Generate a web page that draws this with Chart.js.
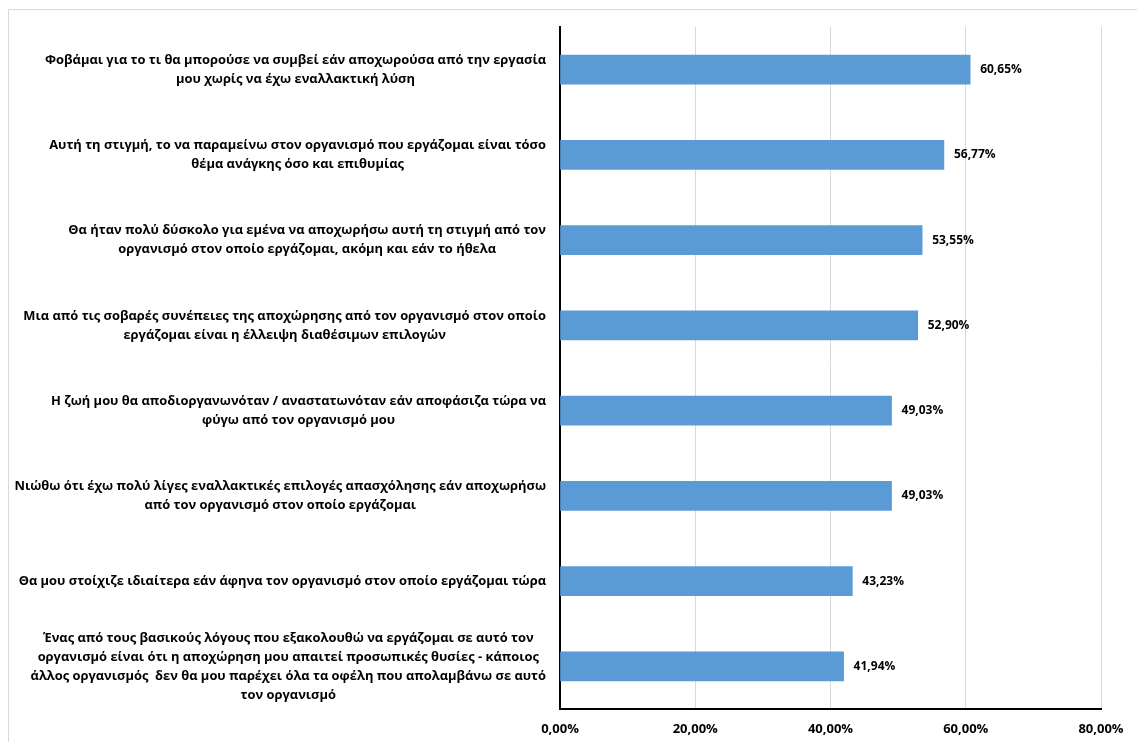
<!DOCTYPE html>
<html>
<head>
<meta charset="utf-8">
<script src="https://cdn.jsdelivr.net/npm/chart.js@4"></script>
<style>
    html, body { margin: 0; padding: 0; background: #fff; overflow: hidden; }
    #wrap { position: relative; width: 1137px; height: 742px; }
    #frame { position: absolute; left: 8px; top: 9px; width: 1140px; height: 740px; border: 1px solid #d9d9d9; box-sizing: border-box; }
    canvas { position: absolute; left: 0; top: 0; }
</style>
</head>
<body>
<div id="wrap">
    <div id="frame"></div>
    <canvas id="commitChart" width="1137" height="742"></canvas>
</div>
<script>
// Statements (each one is an array of wrapped lines)
const statements = [
    ["Φοβάμαι για το τι θα μπορούσε να συμβεί εάν αποχωρούσα από την εργασία", "μου χωρίς να έχω εναλλακτική λύση"],
    ["Αυτή τη στιγμή, το να παραμείνω στον οργανισμό που εργάζομαι είναι τόσο", "θέμα ανάγκης όσο και επιθυμίας"],
    ["Θα ήταν πολύ δύσκολο για εμένα να αποχωρήσω αυτή τη στιγμή από τον", "οργανισμό στον οποίο εργάζομαι, ακόμη και εάν το ήθελα"],
    ["Μια από τις σοβαρές συνέπειες της αποχώρησης από τον οργανισμό στον οποίο", "εργάζομαι είναι η έλλειψη διαθέσιμων επιλογών"],
    ["Η ζωή μου θα αποδιοργανωνόταν / αναστατωνόταν εάν αποφάσιζα τώρα να", "φύγω από τον οργανισμό μου"],
    ["Νιώθω ότι έχω πολύ λίγες εναλλακτικές επιλογές απασχόλησης εάν αποχωρήσω", "από τον οργανισμό στον οποίο εργάζομαι"],
    ["Θα μου στοίχιζε ιδιαίτερα εάν άφηνα τον οργανισμό στον οποίο εργάζομαι τώρα"],
    ["Ένας από τους βασικούς λόγους που εξακολουθώ να εργάζομαι σε αυτό τον", "οργανισμό είναι ότι η αποχώρηση μου απαιτεί προσωπικές θυσίες - κάποιος", "άλλος οργανισμός  δεν θα μου παρέχει όλα τα οφέλη που απολαμβάνω σε αυτό", "τον οργανισμό"]
];

// Percentage of agreement per statement
const percentages = [60.65, 56.77, 53.55, 52.90, 49.03, 49.03, 43.23, 41.94];

// X axis range and step (percent)
const axisMax = 80;
const axisStep = 20;

const FONT = "'Open Sans', 'Noto Sans', sans-serif";

// Greek-style percentage: comma as decimal separator
function formatPct(v) {
    return v.toFixed(2).replace('.', ',') + '%';
}

// Draws the wrapped statements on the left and the value next to each bar
const labelPlugin = {
    id: 'labelPlugin',
    afterDatasetsDraw(chart) {
        const ctx = chart.ctx;
        const yScale = chart.scales.y;
        const meta = chart.getDatasetMeta(0);
        const lineHeight = 19;

        ctx.save();
        ctx.fillStyle = '#000';
        ctx.textBaseline = 'middle';

        // statement labels: block right-aligned to the axis, lines centered inside it
        ctx.font = 'bold 12.9px ' + FONT;
        ctx.textAlign = 'center';
        statements.forEach((lines, i) => {
            const cy = yScale.getPixelForTick(i);
            const widest = Math.max(...lines.map(l => ctx.measureText(l).width));
            const cx = yScale.right - 14 - widest / 2;
            const top = cy - (lines.length - 1) * lineHeight / 2;
            lines.forEach((l, j) => ctx.fillText(l, cx, top + j * lineHeight));
        });

        // value labels at the end of the bars
        ctx.font = 'bold 12px ' + FONT;
        ctx.textAlign = 'left';
        meta.data.forEach((bar, i) => {
            ctx.fillText(formatPct(percentages[i]), bar.x + 10, bar.y);
        });
        ctx.restore();
    }
};

const ctx = document.getElementById('commitChart').getContext('2d');

new Chart(ctx, {
    type: 'bar',
    data: {
        labels: statements,
        datasets: [{
            data: percentages,
            backgroundColor: '#5b9bd5',
            borderWidth: 0,
            barThickness: 29
        }]
    },
    options: {
        indexAxis: 'y',
        responsive: false,
        animation: false,
        layout: { padding: { top: 27, right: 36, left: 0, bottom: 0 } },
        plugins: {
            legend: { display: false },
            tooltip: { enabled: false }
        },
        scales: {
            x: {
                min: 0,
                max: axisMax,
                afterFit: scale => { scale.height = 33; },
                grid: { color: '#d9d9d9', lineWidth: 1, drawTicks: false },
                border: { color: '#000', width: 2 },
                ticks: {
                    stepSize: axisStep,
                    padding: 12,
                    color: '#000',
                    font: { family: FONT, size: 13, weight: 'bold' },
                    callback: v => formatPct(v)
                }
            },
            y: {
                afterFit: scale => { scale.width = 560; },
                grid: { display: false },
                border: { color: '#000', width: 2 },
                ticks: { display: false }
            }
        }
    },
    plugins: [labelPlugin]
});
</script>
</body>
</html>
